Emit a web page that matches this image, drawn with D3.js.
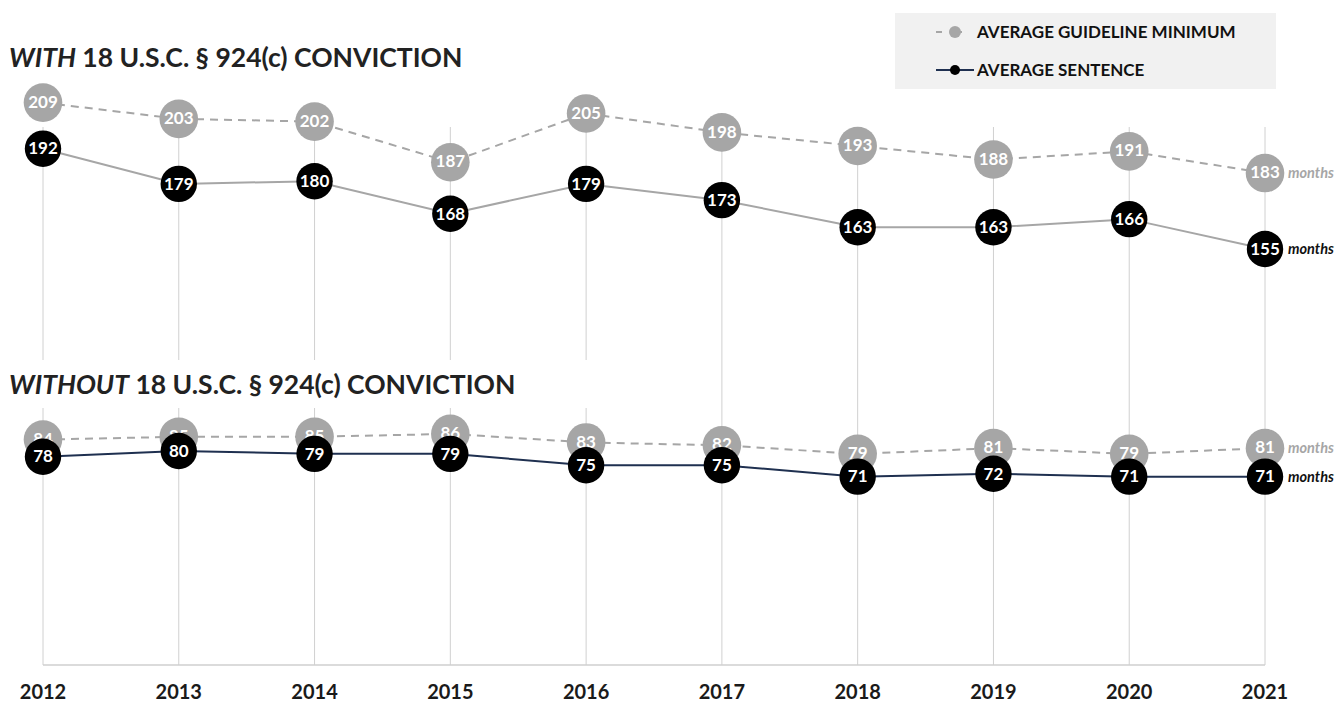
<!DOCTYPE html>
<html>
<head>
<meta charset="utf-8">
<script src="https://cdn.jsdelivr.net/npm/d3@7"></script>
<style>
  body{margin:0;background:#fff;}
  svg{display:block;font-family:Lato,'Open Sans',sans-serif;}
</style>
</head>
<body>
<svg id="chart" width="1340" height="702"></svg>
<script>
var years=[2012,2013,2014,2015,2016,2017,2018,2019,2020,2021];
// with 924(c)
var withGuideline=[209,203,202,187,205,198,193,188,191,183];
var withSentence=[192,179,180,168,179,173,163,163,166,155];
// without 924(c)
var withoutGuideline=[84,85,85,86,83,82,79,81,79,81];
var withoutSentence=[78,80,79,79,75,75,71,72,71,71];
var legendLabels=['AVERAGE GUIDELINE MINIMUM','AVERAGE SENTENCE'];

var grey='#a6a6a6';
var navy='#1f3050';
var baseY=665;

var svg=d3.select('#chart');
var x=d3.scalePoint().domain(years).range([43,1265]);
var y=d3.scaleLinear().domain([0,200]).range([669,127]);
var y2=d3.scaleLinear().domain([0,100]).range([679,394]);

// vertical grid lines
svg.append('g')
    .selectAll('line')
    .data(years)
    .enter()
    .append('line')
    .attr('x1',function(d){return x(d);})
    .attr('x2',function(d){return x(d);})
    .attr('y1',y(200))
    .attr('y2',baseY)
    .attr('stroke','#d0d0d0')
    .attr('stroke-width',1);
svg.append('line')
    .attr('x1',x(2012)).attr('x2',x(2021))
    .attr('y1',baseY).attr('y2',baseY)
    .attr('stroke','#cfcfcf')
    .attr('stroke-width',1.5);

// year labels
svg.append('g')
    .selectAll('text')
    .data(years)
    .enter()
    .append('text')
    .attr('x',function(d){return x(d);})
    .attr('y',699)
    .attr('text-anchor','middle')
    .style('font-size','20px')
    .style('font-weight','bold')
    .style('fill','#1a1a1a')
    .text(function(d){return d;});

// titles
function drawTitle(word,ty,bg){
    if(bg){
        svg.append('rect')
            .attr('x',0).attr('y',ty-34)
            .attr('width',640).attr('height',48)
            .attr('fill','#fff');
    }
    var t=svg.append('text')
        .attr('x',9)
        .attr('y',ty)
        .style('font-size','26.5px')
        .style('font-weight','bold')
        .style('fill','#222');
    t.append('tspan').style('font-style','italic').text(word);
    t.append('tspan').text(' 18 U.S.C. \u00a7 924(c) CONVICTION');
}
drawTitle('WITH',67,false);
drawTitle('WITHOUT',394,true);

function drawPanel(guide,sent,sentColor,ys){
    var line=d3.line()
        .x(function(d,i){return x(years[i]);})
        .y(function(d){return ys(d);});
    svg.append('path')
        .datum(guide)
        .attr('d',line)
        .attr('fill','none')
        .attr('stroke',grey)
        .attr('stroke-width',2)
        .attr('stroke-dasharray','8,6');
    svg.append('path')
        .datum(sent)
        .attr('d',line)
        .attr('fill','none')
        .attr('stroke',sentColor)
        .attr('stroke-width',2);
    [[guide,grey,19.3,'0.3em'],[sent,'#000',18.2,'0.34em']].forEach(function(s){
        var g=svg.append('g');
        g.selectAll('circle')
            .data(s[0])
            .enter()
            .append('circle')
            .attr('cx',function(d,i){return x(years[i]);})
            .attr('cy',function(d){return ys(d);})
            .attr('r',s[2])
            .attr('fill',s[1]);
        g.selectAll('text')
            .data(s[0])
            .enter()
            .append('text')
            .attr('x',function(d,i){return x(years[i]);})
            .attr('y',function(d){return ys(d);})
            .attr('dy',s[3])
            .attr('text-anchor','middle')
            .style('font-size','17px')
            .style('font-weight','bold')
            .style('fill','#fff')
            .text(function(d){return d;});
        svg.append('text')
            .attr('x',x(2021)+23)
            .attr('y',ys(s[0][s[0].length-1]))
            .attr('dy','0.36em')
            .style('font-size','14.5px')
            .style('font-weight','bold')
            .style('font-style','italic')
            .style('fill',s[1]=='#000'?'#111':grey)
            .text('months');
    });
}
drawPanel(withGuideline,withSentence,grey,y);
drawPanel(withoutGuideline,withoutSentence,navy,y2);

// legend
var legend=svg.append('g').attr('transform','translate(895,13)');
legend.append('rect')
    .attr('width',381).attr('height',76)
    .attr('fill','#f1f1f1');
legend.append('line')
    .attr('x1',41).attr('x2',79).attr('y1',19).attr('y2',19)
    .attr('stroke',grey).attr('stroke-width',2)
    .attr('stroke-dasharray','6,14');
legend.append('circle').attr('cx',60).attr('cy',19).attr('r',6).attr('fill',grey);
legend.append('line')
    .attr('x1',41).attr('x2',79).attr('y1',57).attr('y2',57)
    .attr('stroke',navy).attr('stroke-width',2);
legend.append('circle').attr('cx',60).attr('cy',57).attr('r',5).attr('fill','#000');
legend.selectAll('text.lbl')
    .data(legendLabels)
    .enter()
    .append('text')
    .attr('class','lbl')
    .attr('x',82)
    .attr('y',function(d,i){return 19+i*38;})
    .attr('dy','0.36em')
    .style('font-size','17px')
    .style('font-weight','bold')
    .style('fill','#111')
    .text(function(d){return d;});
</script>
</body>
</html>
